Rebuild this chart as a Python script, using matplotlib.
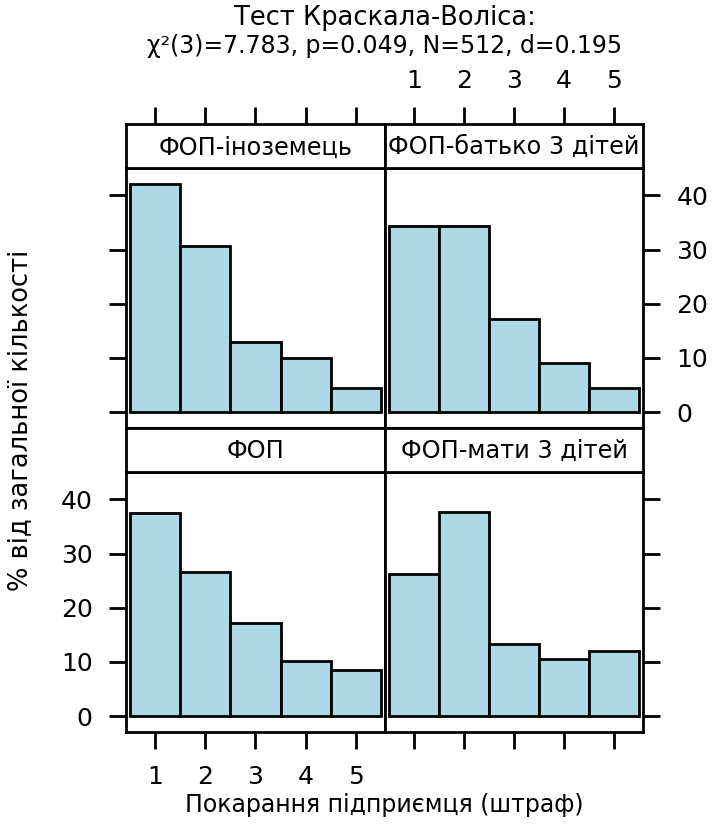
import matplotlib
matplotlib.use("Agg")
import matplotlib.pyplot as plt
import numpy as np

W, H = 717, 832
categories = [1, 2, 3, 4, 5]
panels = ["ФОП-іноземець", "ФОП-батько 3 дітей", "ФОП", "ФОП-мати 3 дітей"]
vals_inozemets = [42.1, 30.7, 12.9, 9.9, 4.5]
vals_batko = [34.4, 34.4, 17.2, 9.1, 4.5]
vals_fop = [37.4, 26.5, 17.1, 10.1, 8.5]
vals_maty = [26.2, 37.6, 13.3, 10.5, 12.0]
y_ticks = [0, 10, 20, 30, 40]
title1 = "Тест Краскала-Воліса:"
title2 = "χ²(3)=7.783, p=0.049, N=512, d=0.195"
xlabel = "Покарання підприємця (штраф)"
ylabel = "% від загальної кількості"

fig = plt.figure(figsize=(W / 100, H / 100), dpi=100)

def rect(x0, y0, x1, y1):
    return [x0 / W, (H - y1) / H, (x1 - x0) / W, (y1 - y0) / H]

fam = ["DejaVu Sans"]

xcols = [(126, 385), (385, 643)]
rows = [(124, 168, 428), (428, 472, 732)]
data = [[vals_inozemets, vals_batko], [vals_fop, vals_maty]]
names = [[panels[0], panels[1]], [panels[2], panels[3]]]

allmax = max(max(vals_inozemets), max(vals_batko), max(vals_fop), max(vals_maty))
pad = 0.07 * allmax
lw_frame = 2.0
TICK_FS = 18
for r, (ys0, ys1, yp1) in enumerate(rows):
    for c, (x0, x1) in enumerate(xcols):
        ax = fig.add_axes(rect(x0, ys1, x1, yp1))
        ax.bar(categories, data[r][c], width=1.0, color="#ADD8E6",
               edgecolor="black", linewidth=2.0)
        ax.set_xlim(0.42, 5.58)
        ax.set_ylim(-pad, allmax + pad)
        for s in ax.spines.values():
            s.set_linewidth(lw_frame)
        ax.set_xticks(categories)
        ax.set_yticks(y_ticks)
        ax.tick_params(direction="out", length=12, width=2, pad=12,
                       labelsize=TICK_FS, colors="black")
        ax.tick_params(left=False, right=False, top=False, bottom=False,
                       labelleft=False, labelright=False, labeltop=False, labelbottom=False)
        if r == 0 and c == 0:
            ax.tick_params(left=True)
        if r == 0 and c == 1:
            ax.tick_params(right=True, labelright=True)
        if r == 1 and c == 0:
            ax.tick_params(left=True, labelleft=True, bottom=True, labelbottom=True)
        if r == 1 and c == 1:
            ax.tick_params(right=True, bottom=True)
        sax = fig.add_axes(rect(x0, ys0, x1, ys1))
        sax.set_xticks([]); sax.set_yticks([])
        for s in sax.spines.values():
            s.set_linewidth(lw_frame)
        sax.text(0.5, 0.47, names[r][c], ha="center", va="center",
                 fontsize=17.3, family=fam, transform=sax.transAxes)
        if r == 0:
            tax = sax.twiny()
            tax.set_xlim(0.42, 5.58)
            tax.set_xticks(categories)
            tax.tick_params(axis="x", direction="out", length=12, width=2, pad=10,
                            labelsize=TICK_FS, top=True, labeltop=(c == 1))
            for s in tax.spines.values():
                s.set_visible(False)

fig.text(384.5 / W, 1 - 18 / H, title1, ha="center", va="center", fontsize=18.5, family=fam)
fig.text(384.5 / W, 1 - 46 / H, title2, ha="center", va="center", fontsize=17, family=fam)
fig.text(384.5 / W, 1 - 805 / H, xlabel, ha="center", va="center", fontsize=17, family=fam)
fig.text(20 / W, 1 - 420 / H, ylabel, ha="center", va="center", rotation=90, fontsize=18.5, family=fam)

fig.savefig("out.png", dpi=100)
